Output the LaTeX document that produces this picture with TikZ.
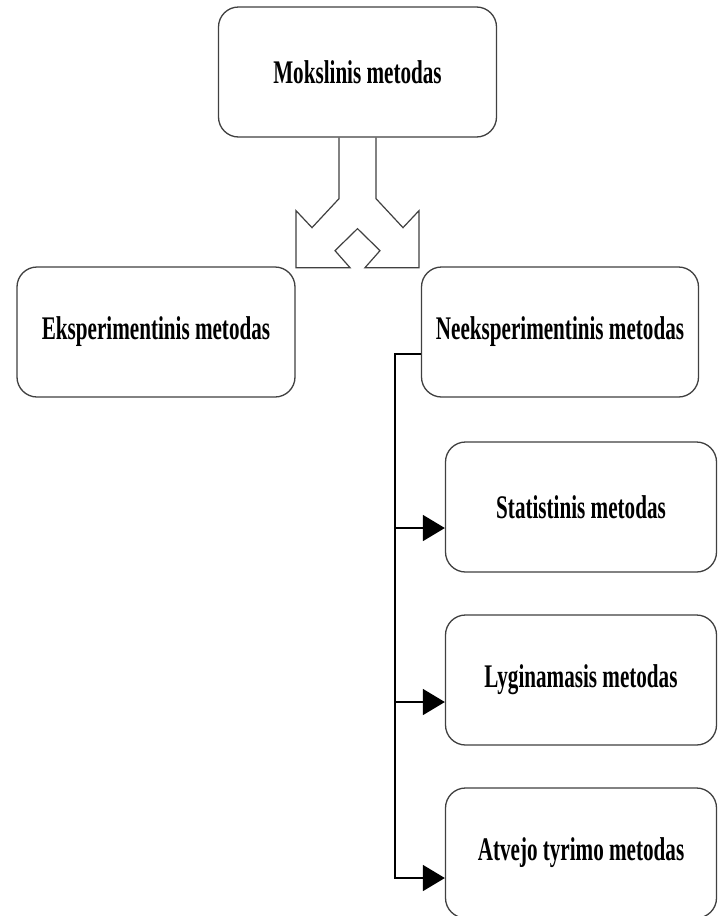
\documentclass[tikz,border=0pt]{standalone}
\usepackage{fontspec}
\newfontfamily\boxfont[FakeStretch=0.64]{Liberation Serif}
\usepackage{tikz}
\usetikzlibrary{arrows.meta}
\tikzset{
  metbox/.style={draw=black!75, line width=1.3pt, rounded corners=20pt, fill=white,
    inner sep=0pt, align=center, font=\boxfont\bfseries\fontsize{33}{38}\selectfont},
  link/.style={black, line width=1.5pt},
  tip/.style={-{Triangle[length=22pt,width=26pt]}}
}

\begin{document}
\begin{tikzpicture}[x=1pt, y=-1pt]
\fill[white] (0,0) rectangle (718,916);
\useasboundingbox (0,0) rectangle (718,916);
\node[metbox, minimum width=278pt, minimum height=130pt] (mokslinis) at (357.5,72) {Mokslinis metodas};
\node[metbox, minimum width=278pt, minimum height=130pt] (eksp) at (156,332) {Eksperimentinis metodas};
\node[metbox, minimum width=277pt, minimum height=130pt] (neeksp) at (560,332) {Neeksperimentinis metodas};
\foreach \nm/\txt/\yy/\dy in {stat/Statistinis metodas/507/21, lygin/Lyginamasis metodas/680/22, atvejo/Atvejo tyrimo metodas/853/25} {
  \node[metbox, minimum width=271pt, minimum height=130pt] (\nm) at (581,\yy) {\txt};
  \coordinate (\nm-in) at ([yshift=-\dy pt]\nm.west);
}
% split arrow below the top box
\draw[black!75, line width=1.2pt, line join=miter] (mokslinis.south) ++(-18.5,0)
  -- ++(0,61) -- ++(-27,29) -- ++(-16,-17) -- ++(0,57) -- ++(54,0)
  -- ++(-15,-17) -- ++(22.5,-22) -- ++(22.5,22) -- ++(-15,17) -- ++(54,0)
  -- ++(0,-57) -- ++(-16,17) -- ++(-27,-29) -- ++(0,-61);
% bus line
\draw[link, tip] ([yshift=-22pt]neeksp.west) -- ++(-26,0) coordinate (bus) |- (atvejo-in);
\foreach \nm in {stat, lygin} {
  \draw[link, tip] (bus |- \nm-in) -- (\nm-in);
}
\end{tikzpicture}
\end{document}
